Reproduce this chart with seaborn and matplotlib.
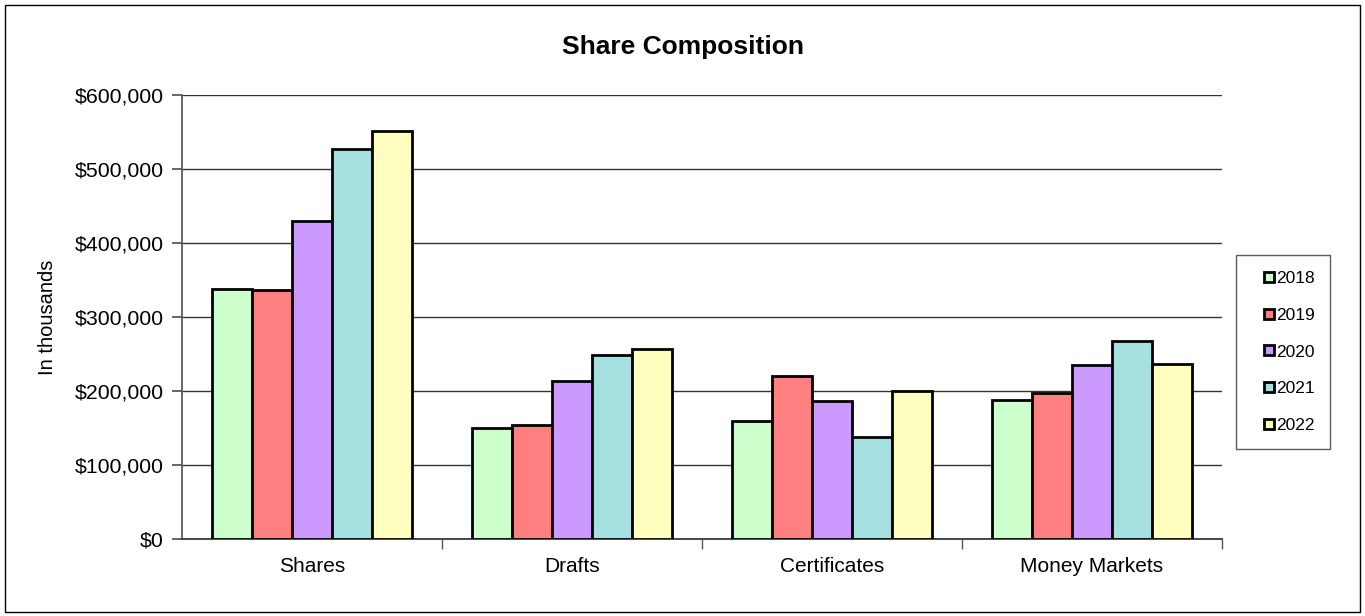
import matplotlib
matplotlib.use("Agg")
import matplotlib.pyplot as plt
import matplotlib.ticker as mticker
from matplotlib.patches import Rectangle
from matplotlib.lines import Line2D
import seaborn as sns
import pandas as pd

categories = ["Shares", "Drafts", "Certificates", "Money Markets"]
years = ["2018", "2019", "2020", "2021", "2022"]
v2018 = [338000, 150000, 159000, 188000]
v2019 = [336000, 154000, 220000, 197000]
v2020 = [430000, 213000, 186000, 235000]
v2021 = [527000, 249000, 138000, 268000]
v2022 = [551000, 257000, 200000, 236000]
colors = ["#CCFFCC", "#FF8080", "#CC99FF", "#A6E0E0", "#FFFFC0"]

series = [v2018, v2019, v2020, v2021, v2022]
rows = []
for y, vals in zip(years, series):
    for c, v in zip(categories, vals):
        rows.append({"Category": c, "Year": y, "Value": v})
df = pd.DataFrame(rows)

sns.set_theme(style="white")
plt.rcParams["font.family"] = ["Liberation Sans", "DejaVu Sans"]
plt.rcParams["text.color"] = "black"
plt.rcParams["axes.labelcolor"] = "black"
plt.rcParams["xtick.color"] = "black"
plt.rcParams["ytick.color"] = "black"

fig = plt.figure(figsize=(13.65, 6.16), dpi=100)
ax = fig.add_axes([182/1365, 1-539/616, (1222-182)/1365, (539-95)/616])

sns.barplot(data=df, x="Category", y="Value", hue="Year", order=categories,
            hue_order=years, palette=colors, width=0.77, edgecolor="black",
            linewidth=2, saturation=1, legend=False, ax=ax, zorder=3)

ax.set_ylim(0, 600000)
ax.set_xlim(-0.5, 3.5)
ax.yaxis.set_major_locator(mticker.MultipleLocator(100000))
ax.yaxis.set_major_formatter(mticker.FuncFormatter(lambda v, p: "${:,.0f}".format(v)))
ax.grid(axis="y", color="#333333", linewidth=1, zorder=0)
ax.set_axisbelow(True)
for s in ["top", "right"]:
    ax.spines[s].set_visible(False)
ax.spines["left"].set_color("#555555")
ax.spines["bottom"].set_color("#333333")
ax.tick_params(axis="y", which="major", left=True, length=7, color="#555555", labelsize=15.3, pad=6)
ax.tick_params(axis="x", which="major", bottom=False, labelsize=15, pad=7)
ax.set_xticks([0.5, 1.5, 2.5, 3.5], minor=True)
ax.tick_params(axis="x", which="minor", bottom=True, length=7, color="#555555")
ax.set_xlabel("")
ax.set_ylabel("In thousands", fontsize=14.5)
ax.yaxis.set_label_coords(-(182 - 57) / 1040, 0.5)

fig.text(0.5, 1-47/616, "Share Composition", ha="center", va="center",
         fontsize=19, fontweight="bold")

handles = [Line2D([], [], linestyle="none", marker="s", markersize=6.5,
                  markerfacecolor=c, markeredgecolor="black", markeredgewidth=2)
           for c in colors]
leg = fig.legend(handles, years, loc="center left",
                 bbox_to_anchor=(1236/1365, 1-352/616), fontsize=12.5,
                 frameon=True, fancybox=False, edgecolor="#333333",
                 handlelength=2.0, handletextpad=-0.6,
                 labelspacing=1.25, borderpad=0.9, borderaxespad=0)
leg.get_frame().set_linewidth(1)

fig.patches.append(Rectangle((5/1365, 4/616), 1355/1365, 607/616, transform=fig.transFigure,
                             fill=False, edgecolor="black", linewidth=1))

fig.savefig("out.png", dpi=100)
